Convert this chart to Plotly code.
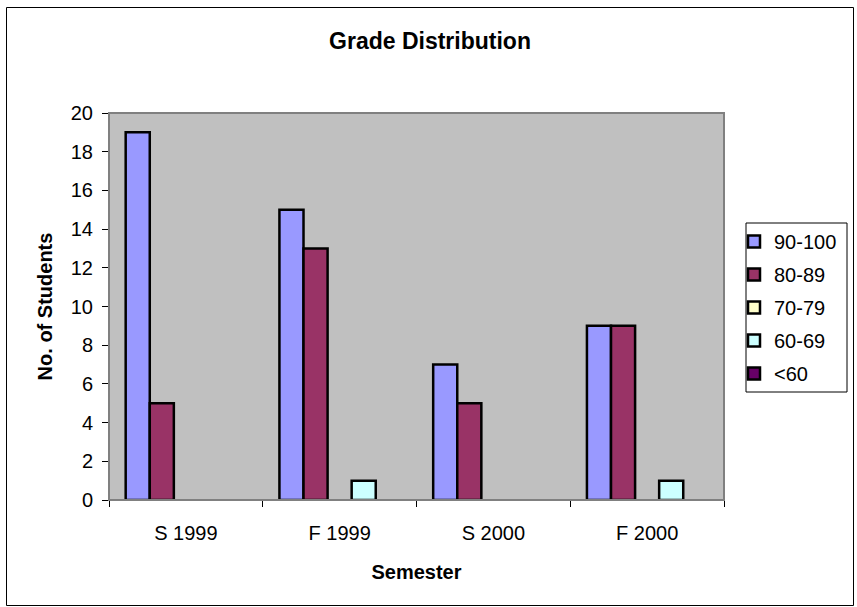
import plotly.graph_objects as go

# ---- data ----
semesters = ["S 1999", "F 1999", "S 2000", "F 2000"]
series_names = ["90-100", "80-89", "70-79", "60-69", "<60"]
grade_90_100 = [19, 15, 7, 9]
grade_80_89 = [5, 13, 5, 9]
grade_70_79 = [0, 0, 0, 0]
grade_60_69 = [0, 1, 0, 1]
grade_below_60 = [0, 0, 0, 0]
y_tick_values = [0, 2, 4, 6, 8, 10, 12, 14, 16, 18, 20]

series_values = [grade_90_100, grade_80_89, grade_70_79, grade_60_69, grade_below_60]
series_colors = ["#9999FF", "#993366", "#FFFFCC", "#CCFFFF", "#660066"]

W, H = 857, 607
L, R, T, B = 109, 724, 113, 500   # plot area in px
FONT = "Arial, Liberation Sans, sans-serif"

fig = go.Figure()
for name, vals, col in zip(series_names, series_values, series_colors):
    # zero-height bars are not drawn (no flat outline), as in the original chart
    shown = [v if v > 0 else None for v in vals]
    fig.add_trace(go.Bar(
        x=semesters, y=shown, name=name, legendgroup=name,
        marker=dict(color=col, line=dict(color="black", width=2.5)),
    ))

pw, ph = R - L, B - T
def px_x(v):
    return (v - L) / pw
def px_y(v):
    return (B - v) / ph

fig.update_layout(
    width=W, height=H,
    margin=dict(l=L, r=W - R, t=T, b=H - B),
    paper_bgcolor="white",
    plot_bgcolor="#C0C0C0",
    font=dict(family=FONT, size=20, color="black"),
    barmode="group", bargap=0.217, bargroupgap=0,
    title=dict(text="<b>Grade Distribution</b>", x=430 / W, xref="container", xanchor="center",
               y=1 - 41 / H, yref="container", yanchor="middle",
               font=dict(size=23, family=FONT, color="black")),
    xaxis=dict(type="category", tickson="boundaries", ticks="outside", ticklen=6,
               tickcolor="black", showline=True, linecolor="black", linewidth=1,
               showgrid=False, tickfont=dict(size=20), ticklabelstandoff=15,
               title=dict(text="<b>Semester</b>", font=dict(size=20), standoff=21)),
    yaxis=dict(range=[0, 20], tickvals=y_tick_values, ticks="outside", ticklen=6,
               tickcolor="black", showline=True, linecolor="black", linewidth=1,
               showgrid=False, zeroline=False, tickfont=dict(size=20), ticklabelstandoff=5,
               title=dict(text="<b>No. of Students</b>", font=dict(size=20), standoff=12)),
    showlegend=True,
    legend=dict(x=px_x(734), xanchor="left", y=px_y(222), yanchor="top",
                bgcolor="rgba(0,0,0,0)", borderwidth=0, tracegroupgap=4,
                font=dict(size=20), traceorder="grouped"),
    shapes=[
        # plot area border
        dict(type="rect", xref="paper", yref="paper", x0=0, x1=1, y0=0, y1=1,
             line=dict(color="#808080", width=2), layer="above"),
        # legend box
        dict(type="rect", xref="paper", yref="paper", x0=px_x(746), x1=px_x(847),
             y0=px_y(392), y1=px_y(223), line=dict(color="black", width=1)),
        # outer chart border
        dict(type="rect", xref="paper", yref="paper", x0=px_x(6.5), x1=px_x(853.5),
             y0=px_y(605.5), y1=px_y(7.5), line=dict(color="black", width=1)),
    ],
)

fig.write_html("out.html", config={"displayModeBar": False},
               post_script="document.body.style.margin='0';")
